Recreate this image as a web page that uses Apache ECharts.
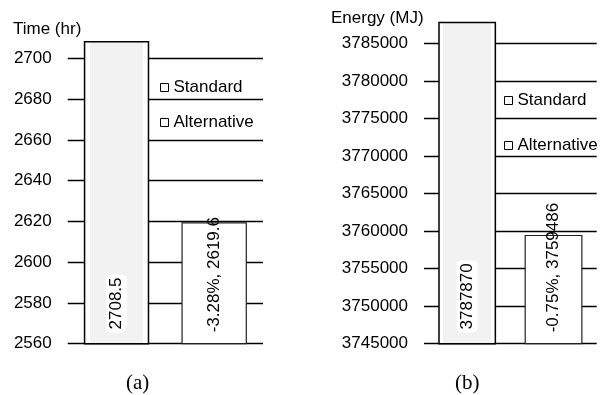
<!DOCTYPE html>
<html>
<head>
<meta charset="utf-8">
<script src="https://cdn.jsdelivr.net/npm/echarts@6/dist/echarts.min.js"></script>
<style>
  html, body { margin: 0; padding: 0; background: #fff; }
  #chart { width: 601px; height: 395px; }
</style>
</head>
<body>
<div id="chart"></div>
<script>
// data
const categories = ['Standard', 'Alternative'];
const timeValues = [2708.5, 2619.6];
const timeChange = ['', '-3.28%'];
const energyValues = [3787870, 3759486];
const energyChange = ['', '-0.75%'];
const timeAxis = { min: 2560, max: 2720, interval: 20 };
const energyAxis = { min: 3745000, max: 3790000, interval: 5000 };

const font = 'Liberation Sans, Arial, sans-serif';

// standard bar: light grey with a white inner frame
const standardFill = new echarts.graphic.LinearGradient(0, 0, 1, 0, [
  { offset: 0, color: '#fff' }, { offset: 0.09, color: '#fff' },
  { offset: 0.09, color: '#f2f2f2' }, { offset: 0.91, color: '#f2f2f2' },
  { offset: 0.91, color: '#fff' }, { offset: 1, color: '#fff' }
]);

function oneSeries(name, idx, values, changes, stack) {
  const data = values.map((v, i) => (i === idx ? v : '-'));
  const isStd = idx === 0;
  return {
    name: name,
    type: 'bar',
    stack: stack,
    xAxisIndex: stack === 'a' ? 0 : 1,
    yAxisIndex: stack === 'a' ? 0 : 1,
    barWidth: '67%',
    data: data,
    itemStyle: isStd
      ? { color: standardFill, borderColor: '#000', borderWidth: 1.5 }
      : { color: '#fff', borderColor: '#222', borderWidth: 1.2 },
    label: {
      show: true,
      position: 'insideBottom',
      rotate: 90,
      align: 'left',
      verticalAlign: 'middle',
      distance: 12,
      fontFamily: font,
      fontSize: 17,
      color: '#000',
      backgroundColor: isStd ? '#fff' : 'transparent',
      borderRadius: 5,
      padding: isStd ? [2, 3] : 0,
      formatter: p => (changes[p.dataIndex] ? changes[p.dataIndex] + ', ' : '') + p.value
    }
  };
}

function yAxis(gridIndex, ax) {
  return {
    type: 'value',
    gridIndex: gridIndex,
    min: ax.min,
    max: ax.max,
    interval: ax.interval,
    axisLine: { show: false },
    axisTick: { show: false },
    axisLabel: {
      fontFamily: font, fontSize: 17, color: '#000', margin: 16, showMaxLabel: false,
      formatter: v => String(v)
    },
    splitLine: { showMaxLine: false, lineStyle: { color: '#000', width: 1.3 } }
  };
}

function xAxis(gridIndex) {
  return {
    type: 'category',
    gridIndex: gridIndex,
    data: categories,
    axisLine: { show: false },
    axisTick: { show: false },
    axisLabel: { show: false }
  };
}

function legend(left, top, gap) {
  return {
    orient: 'vertical',
    left: left,
    top: top,
    itemGap: gap,
    itemWidth: 8,
    itemHeight: 8,
    icon: 'rect',
    textStyle: { fontFamily: font, fontSize: 17, color: '#000' },
    data: categories.map(c => ({
      name: c,
      itemStyle: { color: '#fff', borderColor: '#000', borderWidth: 1 }
    }))
  };
}

const chart = echarts.init(document.getElementById('chart'));
chart.setOption({
  animation: false,
  title: [
    { text: 'Time (hr)', left: 8, top: 16, textStyle: { fontFamily: font, fontSize: 17, fontWeight: 'normal', color: '#000' } },
    { text: 'Energy (MJ)', left: 326, top: 5, textStyle: { fontFamily: font, fontSize: 17, fontWeight: 'normal', color: '#000' } },
    { text: '(a)', left: 121, top: 368, textStyle: { fontFamily: 'Liberation Serif, serif', fontSize: 21, fontWeight: 'normal', color: '#000' } },
    { text: '(b)', left: 450, top: 368, textStyle: { fontFamily: 'Liberation Serif, serif', fontSize: 21, fontWeight: 'normal', color: '#000' } }
  ],
  legend: [legend(155, 74, 18), legend(499, 87, 28)],
  grid: [
    { left: 67.7, right: 338, top: 17.6, bottom: 51.3 },
    { left: 424, right: 4.3, top: 5.75, bottom: 51.3 }
  ],
  xAxis: [xAxis(0), xAxis(1)],
  yAxis: [yAxis(0, timeAxis), yAxis(1, energyAxis)],
  series: [
    oneSeries('Standard', 0, timeValues, timeChange, 'a'),
    oneSeries('Alternative', 1, timeValues, timeChange, 'a'),
    oneSeries('Standard', 0, energyValues, energyChange, 'b'),
    oneSeries('Alternative', 1, energyValues, energyChange, 'b')
  ]
});
</script>
</body>
</html>
